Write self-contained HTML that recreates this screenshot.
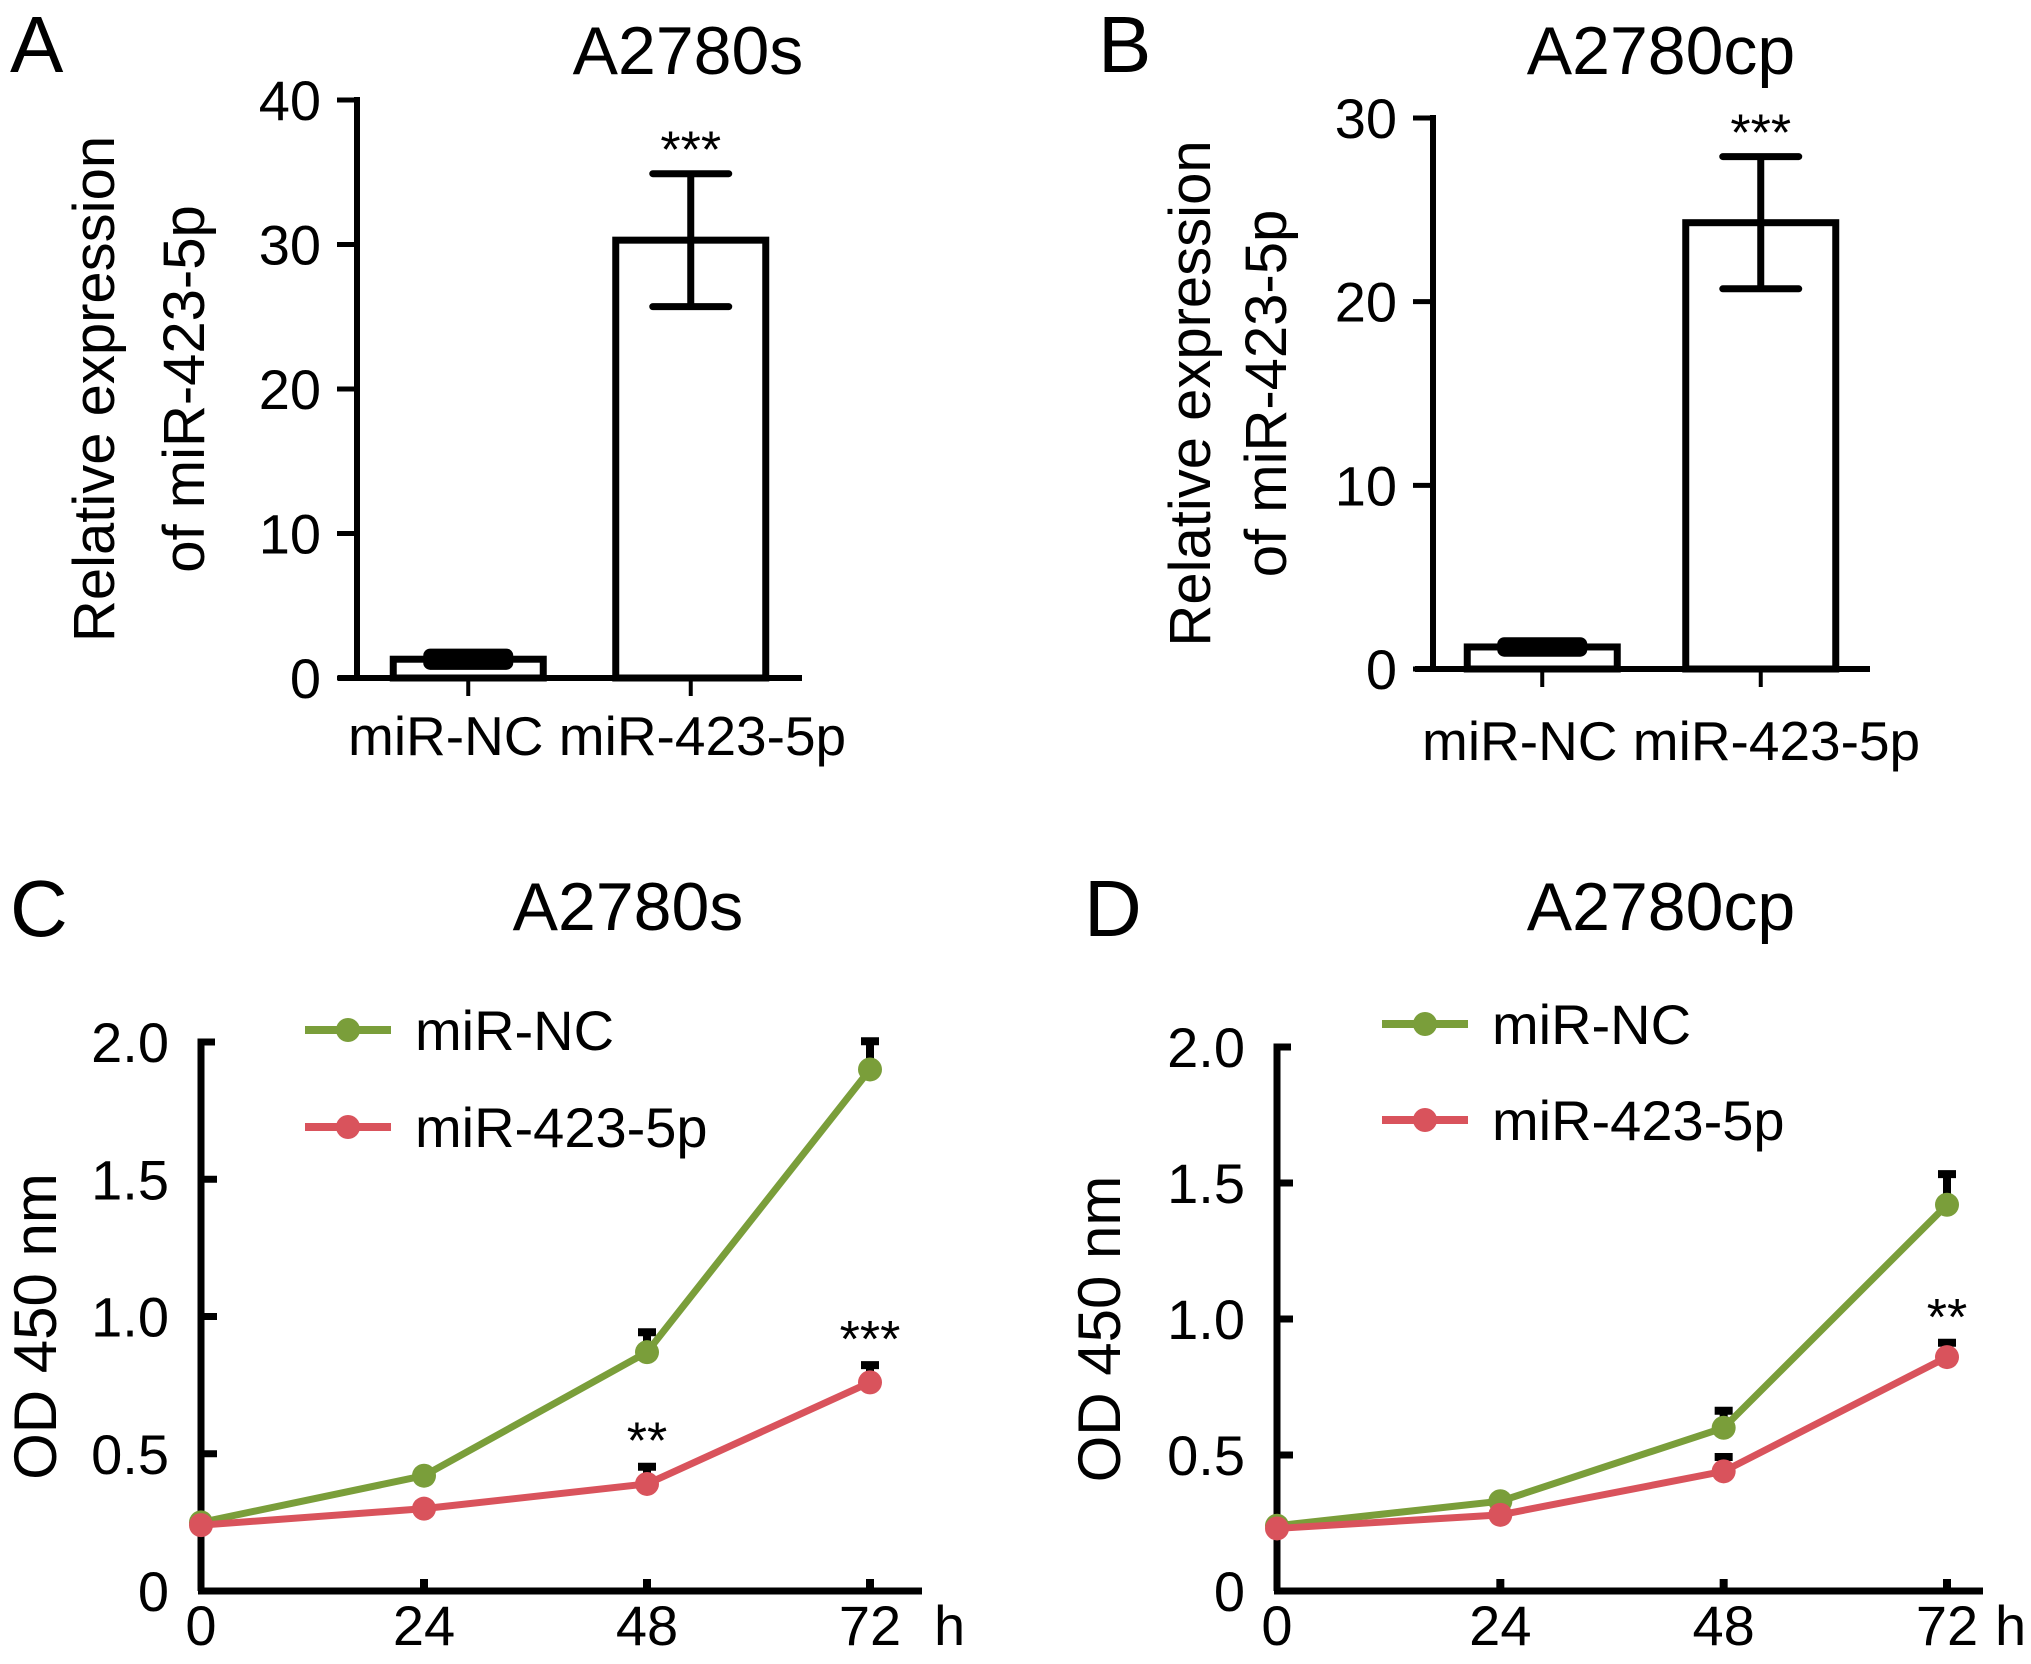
<!DOCTYPE html>
<html><head><meta charset="utf-8"><style>
html,body{margin:0;padding:0;background:#fff;}
svg{display:block;font-family:"Liberation Sans",Arial,sans-serif;}
</style></head><body>
<svg id="fig" width="2031" height="1664" viewBox="0 0 2031 1664" xmlns="http://www.w3.org/2000/svg">
<rect width="2031" height="1664" fill="#fff"/>
<text x="10" y="72" font-size="80">A</text>
<text x="688" y="74" font-size="68" text-anchor="middle">A2780s</text>
<text x="1098" y="72" font-size="80">B</text>
<text x="1661" y="74" font-size="68" text-anchor="middle">A2780cp</text>
<text x="10" y="936" font-size="80">C</text>
<text x="628" y="930" font-size="68" text-anchor="middle">A2780s</text>
<text x="1084" y="936" font-size="80">D</text>
<text x="1661" y="930" font-size="68" text-anchor="middle">A2780cp</text>
<g id="gA"></g>
<g id="gB"></g>
<g id="gC"></g>
<g id="gD"></g>
</svg>
<script>
// Bar chart data
const barCategories = ["miR-NC", "miR-423-5p"];
const barA_values = [1.3, 30.3];
const barA_err = [0.25, 4.6];
const barA_sig = ["", "***"];
const barA_ticks = [0, 10, 20, 30, 40];
const barB_values = [1.2, 24.3];
const barB_err = [0.15, 3.6];
const barB_sig = ["", "***"];
const barB_ticks = [0, 10, 20, 30];
// Line chart data
const timePoints = [0, 24, 48, 72];
const xTickLabels = ["0", "24", "48", "72"];
const yTicksLine = [0, 0.5, 1.0, 1.5, 2.0];
const yTickLabelsLine = ["0", "0.5", "1.0", "1.5", "2.0"];
const seriesNames = ["miR-NC", "miR-423-5p"];
const C_nc = [0.25, 0.42, 0.87, 1.90];
const C_nc_err = [0, 0, 0.08, 0.11];
const C_mir = [0.24, 0.30, 0.39, 0.76];
const C_mir_err = [0, 0, 0.07, 0.07];
const C_sig = ["", "", "**", "***"];
const D_nc = [0.24, 0.33, 0.60, 1.42];
const D_nc_err = [0, 0, 0.07, 0.12];
const D_mir = [0.23, 0.28, 0.44, 0.86];
const D_mir_err = [0, 0, 0.06, 0.06];
const D_sig = ["", "", "", "**"];

const NS = "http://www.w3.org/2000/svg";
function mk(parent, tag, attrs, text) {
  const e = document.createElementNS(NS, tag);
  for (const k in attrs) e.setAttribute(k, attrs[k]);
  if (text !== undefined) e.textContent = text;
  parent.appendChild(e);
  return e;
}

function barChart(g, cfg, values, errs, sigs, ticks) {
  const ymax = ticks[ticks.length - 1];
  const y = v => cfg.y0 - (v / ymax) * (cfg.y0 - cfg.yTop);
  const ax = mk(g, "line", {x1: cfg.ax, y1: y(ymax) - 3, x2: cfg.ax, y2: cfg.y0, stroke: "#000", "stroke-width": 6});
  
  
  const xa = mk(g, "line", {x1: cfg.xStart, y1: cfg.y0, x2: cfg.xEnd, y2: cfg.y0, stroke: "#000", "stroke-width": 6});
  
  
  ticks.forEach(t => {
    const tk = mk(g, "line", {x1: cfg.ax - 20, y1: y(t), x2: cfg.ax, y2: y(t), stroke: "#000", "stroke-width": 5});
    
    
    const tl = mk(g, "text", {x: cfg.ax - 36, y: y(t) + 20, "font-size": 56, "text-anchor": "end"}, String(t));
    
    
  });
  const cw = (cfg.xEnd - cfg.ax) / values.length;
  values.forEach((v, i) => {
    const cx = cfg.ax + cw * (i + 0.5) + cfg.shift;
    const bw = cfg.bw;
    const b = mk(g, "rect", {x: cx - bw / 2, y: y(v), width: bw, height: cfg.y0 - y(v), fill: "#fff", stroke: "#000", "stroke-width": 7});
    
    
    const e = errs[i];
    const eb = mk(g, "path", {d: `M${cx},${y(v + e)}V${y(v - e)}M${cx - 38},${y(v + e)}H${cx + 38}M${cx - 38},${y(v - e)}H${cx + 38}`, stroke: "#000", "stroke-width": i === 0 ? 14 : 7, fill: "none", "stroke-linecap": "round"});
    
    
    const xt = mk(g, "line", {x1: cx, y1: cfg.y0, x2: cx, y2: cfg.y0 + 18, stroke: "#000", "stroke-width": 4});
    
    
    if (sigs[i]) {
      const s = mk(g, "text", {x: cx, y: y(v + e) - 6, "font-size": 52, "text-anchor": "middle"}, sigs[i]);
      
      
    }
  });
  const l1 = mk(g, "text", {x: cfg.labelX, y: cfg.labelY, "font-size": 55}, barCategories[0] + " " + barCategories[1]);
  
  
  const mid = (cfg.yTop + cfg.y0) / 2;
  const t1 = mk(g, "text", {x: 0, y: 0, "font-size": 58, "text-anchor": "middle", transform: `translate(${cfg.titleX},${mid}) rotate(-90)`}, "Relative expression");
  
  
  const t2 = mk(g, "text", {x: 0, y: 0, "font-size": 58, "text-anchor": "middle", transform: `translate(${cfg.titleX + cfg.gap},${mid}) rotate(-90)`}, "of miR-423-5p");
  
  
}

barChart(document.getElementById("gA"), {ax: 357, y0: 678, yTop: 100, xStart: 338, xEnd: 802, bw: 150, shift: 0, labelX: 348, labelY: 755, titleX: 114, gap: 90}, barA_values, barA_err, barA_sig, barA_ticks);
barChart(document.getElementById("gB"), {ax: 1433, y0: 669, yTop: 118, xStart: 1415, xEnd: 1870, bw: 150, shift: 0, labelX: 1422, labelY: 760, titleX: 1210, gap: 76}, barB_values, barB_err, barB_sig, barB_ticks);

const GREEN = "#7a9e3a", RED = "#d9535c";
function lineChart(g, cfg, nc, ncErr, mir, mirErr, sigs) {
  const x = t => cfg.x0 + (t / 72) * (cfg.x72 - cfg.x0);
  const y = v => cfg.y0 - (v / 2) * (cfg.y0 - cfg.y2);
  const ya = mk(g, "path", {d: `M${cfg.x0 + 14},${cfg.y2}H${cfg.x0}V${cfg.y0}`, stroke: "#000", "stroke-width": 7, fill: "none"});
  
  
  const xa = mk(g, "line", {x1: cfg.x0 - 3, y1: cfg.y0, x2: cfg.xEnd, y2: cfg.y0, stroke: "#000", "stroke-width": 7});
  
  
  yTicksLine.forEach((t, i) => {
    if (t > 0 && t < 2) {
      const tk = mk(g, "line", {x1: cfg.x0, y1: y(t), x2: cfg.x0 + 16, y2: y(t), stroke: "#000", "stroke-width": 7});
      
      
    }
    const tl = mk(g, "text", {x: cfg.x0 - 32, y: y(t) + 20, "font-size": 56, "text-anchor": "end"}, yTickLabelsLine[i]);
    
    
  });
  timePoints.forEach((t, i) => {
    if (t > 0) {
      const tk = mk(g, "line", {x1: x(t), y1: cfg.y0, x2: x(t), y2: cfg.y0 - 12, stroke: "#000", "stroke-width": 8});
      
      
    }
    const tl = mk(g, "text", {x: x(t), y: cfg.y0 + 54, "font-size": 56, "text-anchor": "middle"}, xTickLabels[i]);
    
    
  });
  const h = mk(g, "text", {x: cfg.xEnd + 12, y: cfg.y0 + 54, "font-size": 56}, "h");
  
  
  const yt = mk(g, "text", {x: 0, y: 0, "font-size": 60, "text-anchor": "middle", transform: `translate(${cfg.titleX},${(cfg.y0 + cfg.y2) / 2 + 10}) rotate(-90)`}, "OD 450 nm");
  
  
  [[nc, ncErr, GREEN, "mir-nc"], [mir, mirErr, RED, "mir-423-5p"]].forEach(([vals, errs, col, nm]) => {
    vals.forEach((v, i) => {
      if (errs[i] > 0) {
        const eb = mk(g, "path", {d: `M${x(timePoints[i])},${y(v)}V${y(v + errs[i])}M${x(timePoints[i]) - 9},${y(v + errs[i]) + 2}H${x(timePoints[i]) + 9}`, stroke: "#000", "stroke-width": 8, fill: "none"});
        
        
      }
    });
    const pts = vals.map((v, i) => `${x(timePoints[i])},${y(v)}`).join(" ");
    const pl = mk(g, "polyline", {points: pts, fill: "none", stroke: col, "stroke-width": 7});
    
    
    vals.forEach((v, i) => {
      const c = mk(g, "circle", {cx: x(timePoints[i]), cy: y(v), r: 12, fill: col});
      
      
    });
  });
  sigs.forEach((s, i) => {
    if (!s) return;
    const top = mir[i] + mirErr[i];
    const st = mk(g, "text", {x: x(timePoints[i]), y: y(top) - 6, "font-size": 52, "text-anchor": "middle"}, s);
    
    
  });
  [[GREEN, seriesNames[0], cfg.legY1], [RED, seriesNames[1], cfg.legY2]].forEach(([col, name, ly]) => {
    const ll = mk(g, "line", {x1: cfg.legX, y1: ly, x2: cfg.legX + 86, y2: ly, stroke: col, "stroke-width": 8});
    
    
    const lc = mk(g, "circle", {cx: cfg.legX + 43, cy: ly, r: 12, fill: col});
    
    
    const lt = mk(g, "text", {x: cfg.legX + 110, y: ly + 20, "font-size": 56}, name);
    
    
  });
}

lineChart(document.getElementById("gC"), {x0: 201, x72: 870, xEnd: 922, y0: 1591, y2: 1042, titleX: 56, legX: 305, legY1: 1030, legY2: 1127}, C_nc, C_nc_err, C_mir, C_mir_err, C_sig);
lineChart(document.getElementById("gD"), {x0: 1277, x72: 1947, xEnd: 1983, y0: 1591, y2: 1047, titleX: 1120, legX: 1382, legY1: 1024, legY2: 1120}, D_nc, D_nc_err, D_mir, D_mir_err, D_sig);
</script>
</body></html>
